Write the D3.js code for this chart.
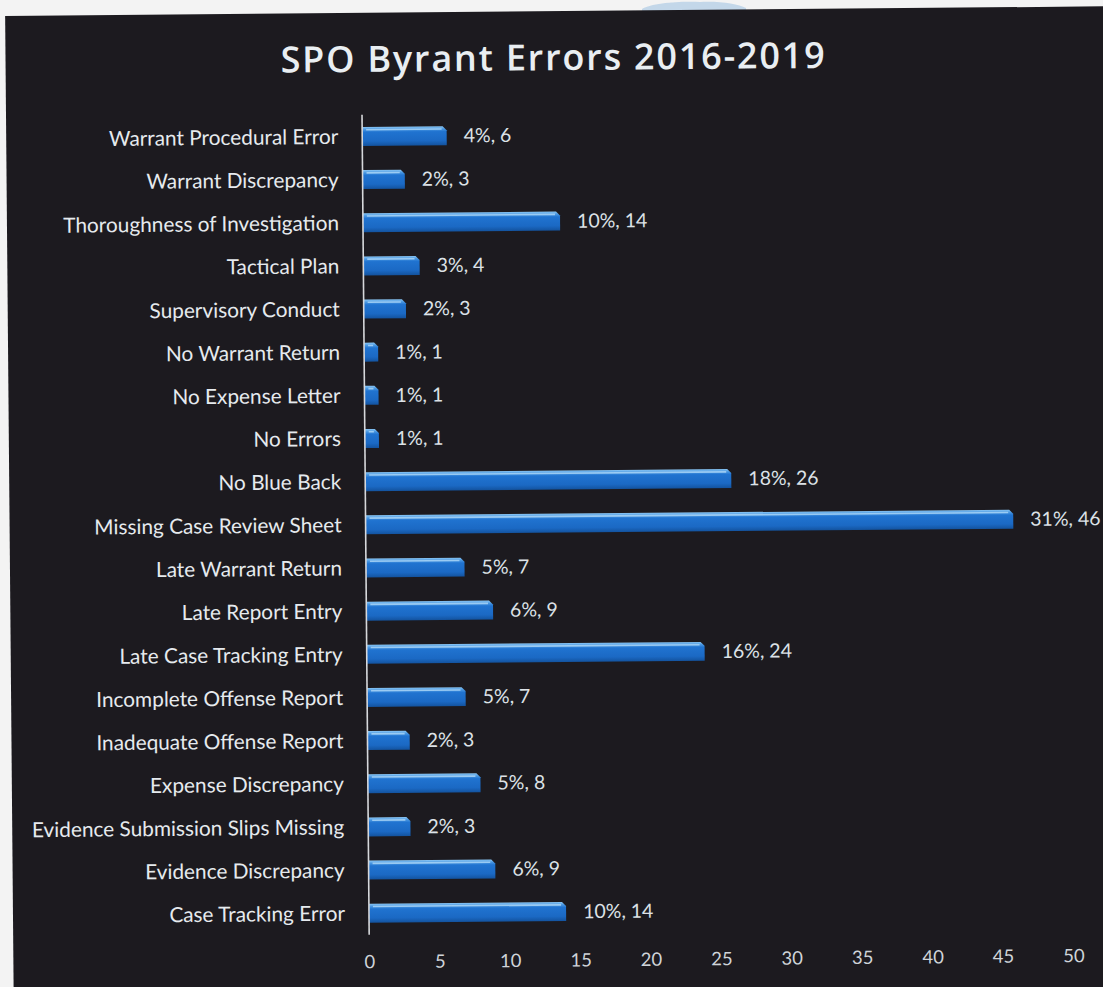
<!DOCTYPE html>
<html>
<head>
<meta charset="utf-8">
<script src="https://cdn.jsdelivr.net/npm/d3@7"></script>
<style>
  html, body { margin: 0; padding: 0; background: #f3f3f3; }
  svg { display: block; }
</style>
</head>
<body>
<svg id="chart" width="1103" height="987"></svg>
<script>
// categories, top to bottom as in the picture
const categories = [
  "Warrant Procedural Error", "Warrant Discrepancy", "Thoroughness of Investigation",
  "Tactical Plan", "Supervisory Conduct", "No Warrant Return", "No Expense Letter",
  "No Errors", "No Blue Back", "Missing Case Review Sheet", "Late Warrant Return",
  "Late Report Entry", "Late Case Tracking Entry", "Incomplete Offense Report",
  "Inadequate Offense Report", "Expense Discrepancy", "Evidence Submission Slips Missing",
  "Evidence Discrepancy", "Case Tracking Error"
];
const counts = [6, 3, 14, 4, 3, 1, 1, 1, 26, 46, 7, 9, 24, 7, 3, 8, 3, 9, 14];
const percents = [4, 2, 10, 3, 2, 1, 1, 1, 18, 31, 5, 6, 16, 5, 2, 5, 2, 6, 10];
const xTicks = [0, 5, 10, 15, 20, 25, 30, 35, 40, 45, 50];

const rows = categories.map((c, i) => ({ cat: c, n: counts[i], pct: percents[i] }));

const svg = d3.select("#chart");

// scan paper + little blue smudge at the top edge
svg.append("rect").attr("width", 1103).attr("height", 987).attr("fill", "#f3f3f3");
svg.append("path")
  .attr("d", "M642,9 C652,3 680,1 700,2 C720,1 738,4 746,8 L746,12 L642,12 Z")
  .attr("fill", "#b7cfe6").attr("opacity", 0.8);

// the photo is a little tilted
const g = svg.append("g").attr("transform", "rotate(-0.5)");

g.append("rect")
  .attr("x", 5).attr("y", 16)
  .attr("width", 1250).attr("height", 1100)
  .attr("fill", "#1c1a1f");

const defs = svg.append("defs");
const grad = defs.append("linearGradient")
  .attr("id", "barGrad").attr("x1", 0).attr("y1", 0).attr("x2", 0).attr("y2", 1);
[["0%", "#8ac6f4"], ["14%", "#4a98e2"], ["28%", "#2073d0"], ["75%", "#1b69c4"], ["100%", "#13539f"]]
  .forEach(([o, c]) => grad.append("stop").attr("offset", o).attr("stop-color", c));

g.append("text")
  .attr("x", 553).attr("y", 75)
  .attr("text-anchor", "middle")
  .attr("font-family", "'Open Sans', sans-serif")
  .attr("font-weight", 600)
  .attr("font-size", 36)
  .attr("letter-spacing", 1.8)
  .attr("fill", "#e9eef2")
  .text("SPO Byrant Errors 2016-2019");

const y = d3.scaleBand()
  .domain(categories)
  .range([118, 938])
  .paddingInner(0.56)
  .paddingOuter(0.28);

const x = d3.scaleLinear().domain([0, 50]).range([361, 1065]);

// bars
const bar = g.append("g").selectAll("g").data(rows).join("g");

bar.append("path")
  .attr("d", d => {
    const x0 = x(0), x1 = x(d.n), y0 = y(d.cat), y1 = y0 + y.bandwidth();
    const b = Math.min(4, (x1 - x0) / 3);
    return `M${x0},${y0} H${x1 - b} L${x1},${y0 + b} V${y1} H${x0} Z`;
  })
  .attr("fill", "url(#barGrad)");

bar.append("rect")
  .attr("x", x(0) + 4)
  .attr("y", d => y(d.cat) + 2)
  .attr("width", d => Math.max(0, x(d.n) - x(0) - 9))
  .attr("height", 1.6)
  .attr("fill", "#b6dcf8")
  .attr("opacity", 0.75);

bar.append("text")
  .attr("x", d => x(d.n) + 17)
  .attr("y", d => y(d.cat) + y.bandwidth() / 2)
  .attr("dy", "0.35em")
  .attr("font-family", "Lato, sans-serif")
  .attr("font-size", 19.5)
  .attr("fill", "#dde2e7")
  .text(d => `${d.pct}%, ${d.n}`);

// category labels
g.append("g").selectAll("text").data(rows).join("text")
  .attr("x", 337)
  .attr("y", d => y(d.cat) + y.bandwidth() / 2)
  .attr("dy", "0.35em")
  .attr("text-anchor", "end")
  .attr("font-family", "Lato, sans-serif")
  .attr("font-size", 20.8)
  .attr("fill", "#e6eaee")
  .text(d => d.cat);

// vertical axis line
g.append("line")
  .attr("x1", x(0)).attr("x2", x(0))
  .attr("y1", 118).attr("y2", 938)
  .attr("stroke", "#d6d8db").attr("stroke-width", 1.6);

// value axis (labels only)
const ax = g.append("g")
  .attr("transform", "translate(0,965)")
  .call(d3.axisBottom(x).tickValues(xTicks).tickSize(0).tickPadding(0));
ax.select(".domain").remove();
ax.selectAll("text")
  .attr("y", 0).attr("dy", "0.35em")
  .attr("font-family", "Lato, sans-serif")
  .attr("font-size", 18.5)
  .attr("fill", "#cfd4d9");
</script>
</body>
</html>
